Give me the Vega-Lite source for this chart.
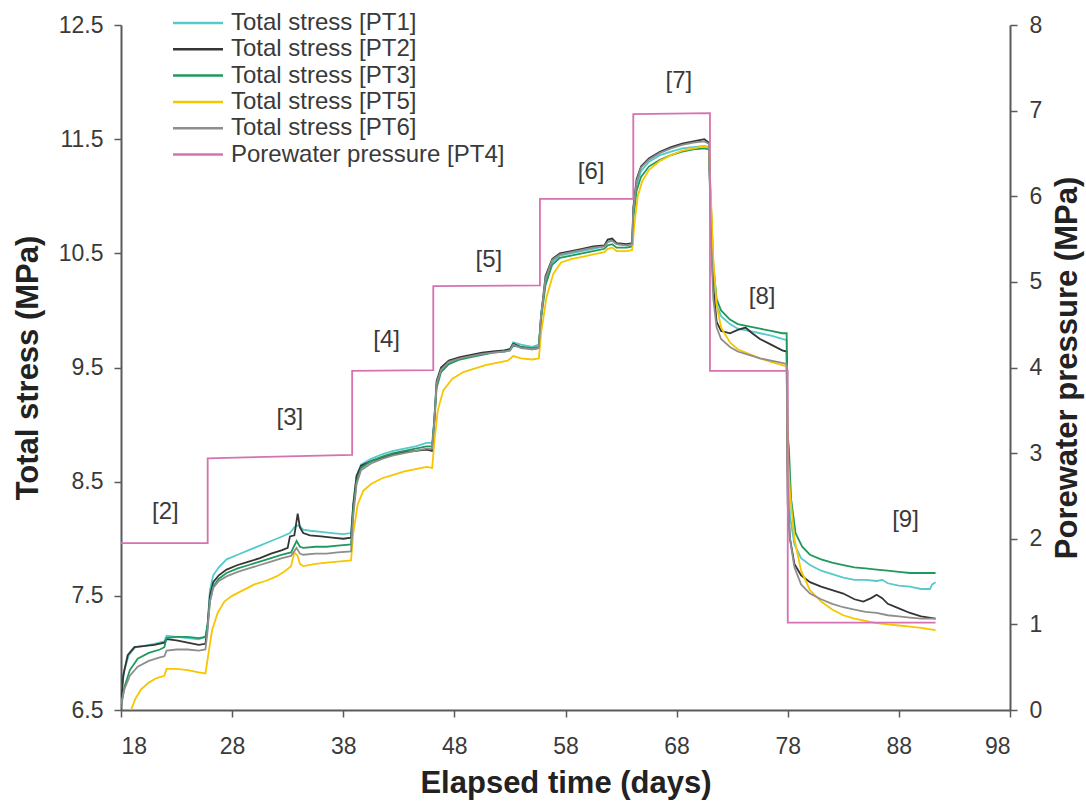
{
  "$schema": "https://vega.github.io/schema/vega-lite/v6.json",
  "width": 889,
  "height": 685,
  "autosize": {"type": "none"},
  "padding": {"left": 121, "top": 25, "right": 76, "bottom": 97},
  "background": "white",
  "config": {
    "view": {"stroke": null},
    "font": "Liberation Sans",
    "axis": {
      "grid": false,
      "domainColor": "#5a5a5a",
      "domainWidth": 2,
      "tickColor": "#5a5a5a",
      "tickWidth": 1.5,
      "tickSize": 7,
      "labelFont": "Liberation Sans",
      "labelFontSize": 23,
      "labelColor": "#3a3a3a",
      "titleFont": "Liberation Sans",
      "titleFontSize": 31,
      "titleFontWeight": "bold",
      "titleColor": "#222222"
    },
    "legend": {
      "orient": "none",
      "legendX": 65,
      "legendY": -14,
      "symbolType": "M-2.5,0H2.5",
      "symbolSize": 400,
      "symbolStrokeWidth": 2.5,
      "labelFont": "Liberation Sans",
      "labelFontSize": 24,
      "labelColor": "#3a3a3a",
      "labelOffset": 21,
      "labelLimit": 500,
      "rowPadding": 2.3,
      "title": null
    }
  },
  "datasets": {
    "stress": [
      {"s":"PT1","d":18.0,"v":6.62},{"s":"PT1","d":18.3,"v":6.85},{"s":"PT1","d":18.7,"v":6.98},{"s":"PT1","d":19.3,"v":7.05},{"s":"PT1","d":20.0,"v":7.06},{"s":"PT1","d":21.0,"v":7.08},{"s":"PT1","d":21.9,"v":7.10},{"s":"PT1","d":22.1,"v":7.15},{"s":"PT1","d":23.0,"v":7.14},{"s":"PT1","d":24.0,"v":7.13},{"s":"PT1","d":25.0,"v":7.12},{"s":"PT1","d":25.6,"v":7.14},{"s":"PT1","d":25.8,"v":7.25},{"s":"PT1","d":26.0,"v":7.55},{"s":"PT1","d":26.3,"v":7.68},{"s":"PT1","d":26.8,"v":7.75},{"s":"PT1","d":27.5,"v":7.82},{"s":"PT1","d":28.5,"v":7.86},{"s":"PT1","d":29.5,"v":7.90},{"s":"PT1","d":30.5,"v":7.94},{"s":"PT1","d":31.5,"v":7.98},{"s":"PT1","d":32.5,"v":8.02},{"s":"PT1","d":33.2,"v":8.05},{"s":"PT1","d":33.6,"v":8.10},{"s":"PT1","d":34.0,"v":8.12},{"s":"PT1","d":34.4,"v":8.08},{"s":"PT1","d":35.0,"v":8.07},{"s":"PT1","d":36.0,"v":8.06},{"s":"PT1","d":37.0,"v":8.05},{"s":"PT1","d":38.0,"v":8.04},{"s":"PT1","d":38.7,"v":8.05},{"s":"PT1","d":38.9,"v":8.30},{"s":"PT1","d":39.2,"v":8.55},{"s":"PT1","d":39.6,"v":8.65},{"s":"PT1","d":40.5,"v":8.70},{"s":"PT1","d":41.5,"v":8.74},{"s":"PT1","d":42.5,"v":8.77},{"s":"PT1","d":43.5,"v":8.79},{"s":"PT1","d":44.5,"v":8.81},{"s":"PT1","d":45.5,"v":8.84},{"s":"PT1","d":46.0,"v":8.84},{"s":"PT1","d":46.2,"v":9.05},{"s":"PT1","d":46.4,"v":9.35},{"s":"PT1","d":46.8,"v":9.48},{"s":"PT1","d":47.5,"v":9.55},{"s":"PT1","d":48.5,"v":9.58},{"s":"PT1","d":49.5,"v":9.60},{"s":"PT1","d":50.5,"v":9.62},{"s":"PT1","d":51.5,"v":9.64},{"s":"PT1","d":52.5,"v":9.65},{"s":"PT1","d":53.0,"v":9.66},{"s":"PT1","d":53.3,"v":9.72},{"s":"PT1","d":54.0,"v":9.70},{"s":"PT1","d":55.0,"v":9.68},{"s":"PT1","d":55.6,"v":9.70},{"s":"PT1","d":55.8,"v":9.95},{"s":"PT1","d":56.2,"v":10.25},{"s":"PT1","d":56.8,"v":10.42},{"s":"PT1","d":57.5,"v":10.48},{"s":"PT1","d":58.5,"v":10.50},{"s":"PT1","d":59.5,"v":10.52},{"s":"PT1","d":60.5,"v":10.54},{"s":"PT1","d":61.5,"v":10.56},{"s":"PT1","d":61.8,"v":10.60},{"s":"PT1","d":62.2,"v":10.62},{"s":"PT1","d":62.6,"v":10.58},{"s":"PT1","d":63.5,"v":10.57},{"s":"PT1","d":64.0,"v":10.58},{"s":"PT1","d":64.1,"v":10.85},{"s":"PT1","d":64.4,"v":11.10},{"s":"PT1","d":64.8,"v":11.22},{"s":"PT1","d":65.5,"v":11.30},{"s":"PT1","d":66.5,"v":11.36},{"s":"PT1","d":67.5,"v":11.39},{"s":"PT1","d":68.5,"v":11.42},{"s":"PT1","d":69.5,"v":11.43},{"s":"PT1","d":70.5,"v":11.44},{"s":"PT1","d":70.9,"v":11.43},{"s":"PT1","d":71.1,"v":10.80},{"s":"PT1","d":71.3,"v":10.30},{"s":"PT1","d":71.6,"v":10.05},{"s":"PT1","d":72.0,"v":9.95},{"s":"PT1","d":72.8,"v":9.88},{"s":"PT1","d":73.5,"v":9.84},{"s":"PT1","d":74.5,"v":9.82},{"s":"PT1","d":75.5,"v":9.80},{"s":"PT1","d":76.5,"v":9.78},{"s":"PT1","d":77.5,"v":9.75},{"s":"PT1","d":77.9,"v":9.74},{"s":"PT1","d":78.0,"v":8.60},{"s":"PT1","d":78.2,"v":8.20},{"s":"PT1","d":78.6,"v":7.95},{"s":"PT1","d":79.2,"v":7.83},{"s":"PT1","d":80.0,"v":7.77},{"s":"PT1","d":81.0,"v":7.72},{"s":"PT1","d":82.0,"v":7.69},{"s":"PT1","d":83.0,"v":7.66},{"s":"PT1","d":84.0,"v":7.64},{"s":"PT1","d":85.0,"v":7.64},{"s":"PT1","d":86.0,"v":7.63},{"s":"PT1","d":86.5,"v":7.64},{"s":"PT1","d":87.0,"v":7.61},{"s":"PT1","d":88.0,"v":7.59},{"s":"PT1","d":89.0,"v":7.58},{"s":"PT1","d":90.0,"v":7.56},{"s":"PT1","d":90.8,"v":7.56},{"s":"PT1","d":91.0,"v":7.60},{"s":"PT1","d":91.3,"v":7.62},

      {"s":"PT2","d":18.0,"v":6.55},{"s":"PT2","d":18.2,"v":6.80},{"s":"PT2","d":18.6,"v":6.98},{"s":"PT2","d":19.2,"v":7.05},{"s":"PT2","d":20.0,"v":7.06},{"s":"PT2","d":21.0,"v":7.07},{"s":"PT2","d":21.9,"v":7.09},{"s":"PT2","d":22.1,"v":7.12},{"s":"PT2","d":23.0,"v":7.11},{"s":"PT2","d":24.0,"v":7.09},{"s":"PT2","d":25.0,"v":7.07},{"s":"PT2","d":25.6,"v":7.08},{"s":"PT2","d":25.8,"v":7.25},{"s":"PT2","d":26.0,"v":7.50},{"s":"PT2","d":26.3,"v":7.62},{"s":"PT2","d":26.8,"v":7.68},{"s":"PT2","d":27.5,"v":7.73},{"s":"PT2","d":28.5,"v":7.77},{"s":"PT2","d":29.5,"v":7.80},{"s":"PT2","d":30.5,"v":7.83},{"s":"PT2","d":31.5,"v":7.87},{"s":"PT2","d":32.5,"v":7.90},{"s":"PT2","d":33.0,"v":7.92},{"s":"PT2","d":33.2,"v":8.02},{"s":"PT2","d":33.6,"v":8.03},{"s":"PT2","d":33.9,"v":8.22},{"s":"PT2","d":34.1,"v":8.10},{"s":"PT2","d":34.4,"v":8.05},{"s":"PT2","d":35.0,"v":8.03},{"s":"PT2","d":36.0,"v":8.02},{"s":"PT2","d":37.0,"v":8.01},{"s":"PT2","d":38.0,"v":8.00},{"s":"PT2","d":38.7,"v":8.01},{"s":"PT2","d":38.9,"v":8.30},{"s":"PT2","d":39.2,"v":8.55},{"s":"PT2","d":39.6,"v":8.64},{"s":"PT2","d":40.5,"v":8.68},{"s":"PT2","d":41.5,"v":8.71},{"s":"PT2","d":42.5,"v":8.74},{"s":"PT2","d":43.5,"v":8.76},{"s":"PT2","d":44.5,"v":8.77},{"s":"PT2","d":45.5,"v":8.78},{"s":"PT2","d":46.0,"v":8.77},{"s":"PT2","d":46.2,"v":9.05},{"s":"PT2","d":46.4,"v":9.38},{"s":"PT2","d":46.8,"v":9.50},{"s":"PT2","d":47.5,"v":9.56},{"s":"PT2","d":48.5,"v":9.59},{"s":"PT2","d":49.5,"v":9.61},{"s":"PT2","d":50.5,"v":9.63},{"s":"PT2","d":51.5,"v":9.64},{"s":"PT2","d":52.5,"v":9.65},{"s":"PT2","d":53.0,"v":9.66},{"s":"PT2","d":53.3,"v":9.71},{"s":"PT2","d":54.0,"v":9.68},{"s":"PT2","d":55.0,"v":9.66},{"s":"PT2","d":55.6,"v":9.67},{"s":"PT2","d":55.8,"v":9.95},{"s":"PT2","d":56.2,"v":10.30},{"s":"PT2","d":56.8,"v":10.45},{"s":"PT2","d":57.5,"v":10.50},{"s":"PT2","d":58.5,"v":10.52},{"s":"PT2","d":59.5,"v":10.54},{"s":"PT2","d":60.5,"v":10.56},{"s":"PT2","d":61.5,"v":10.57},{"s":"PT2","d":61.8,"v":10.62},{"s":"PT2","d":62.2,"v":10.63},{"s":"PT2","d":62.6,"v":10.59},{"s":"PT2","d":63.5,"v":10.58},{"s":"PT2","d":64.0,"v":10.59},{"s":"PT2","d":64.1,"v":10.90},{"s":"PT2","d":64.4,"v":11.15},{"s":"PT2","d":64.8,"v":11.26},{"s":"PT2","d":65.5,"v":11.33},{"s":"PT2","d":66.5,"v":11.39},{"s":"PT2","d":67.5,"v":11.43},{"s":"PT2","d":68.5,"v":11.46},{"s":"PT2","d":69.5,"v":11.48},{"s":"PT2","d":70.5,"v":11.50},{"s":"PT2","d":70.9,"v":11.47},{"s":"PT2","d":71.1,"v":10.70},{"s":"PT2","d":71.3,"v":10.20},{"s":"PT2","d":71.6,"v":9.90},{"s":"PT2","d":72.0,"v":9.82},{"s":"PT2","d":72.8,"v":9.80},{"s":"PT2","d":73.5,"v":9.83},{"s":"PT2","d":74.2,"v":9.85},{"s":"PT2","d":74.8,"v":9.80},{"s":"PT2","d":75.5,"v":9.75},{"s":"PT2","d":76.5,"v":9.70},{"s":"PT2","d":77.5,"v":9.65},{"s":"PT2","d":77.9,"v":9.64},{"s":"PT2","d":78.0,"v":8.30},{"s":"PT2","d":78.2,"v":8.00},{"s":"PT2","d":78.6,"v":7.78},{"s":"PT2","d":79.2,"v":7.68},{"s":"PT2","d":80.0,"v":7.62},{"s":"PT2","d":81.0,"v":7.58},{"s":"PT2","d":82.0,"v":7.55},{"s":"PT2","d":83.0,"v":7.52},{"s":"PT2","d":84.0,"v":7.47},{"s":"PT2","d":84.8,"v":7.45},{"s":"PT2","d":85.5,"v":7.48},{"s":"PT2","d":86.0,"v":7.51},{"s":"PT2","d":86.5,"v":7.48},{"s":"PT2","d":87.0,"v":7.43},{"s":"PT2","d":88.0,"v":7.39},{"s":"PT2","d":89.0,"v":7.35},{"s":"PT2","d":90.0,"v":7.32},{"s":"PT2","d":91.3,"v":7.30},

      {"s":"PT3","d":18.0,"v":6.52},{"s":"PT3","d":18.3,"v":6.70},{"s":"PT3","d":18.8,"v":6.85},{"s":"PT3","d":19.5,"v":6.95},{"s":"PT3","d":20.5,"v":7.00},{"s":"PT3","d":21.5,"v":7.03},{"s":"PT3","d":21.9,"v":7.05},{"s":"PT3","d":22.1,"v":7.13},{"s":"PT3","d":23.0,"v":7.14},{"s":"PT3","d":24.0,"v":7.14},{"s":"PT3","d":25.0,"v":7.13},{"s":"PT3","d":25.6,"v":7.14},{"s":"PT3","d":25.8,"v":7.25},{"s":"PT3","d":26.0,"v":7.45},{"s":"PT3","d":26.3,"v":7.58},{"s":"PT3","d":26.8,"v":7.65},{"s":"PT3","d":27.5,"v":7.70},{"s":"PT3","d":28.5,"v":7.74},{"s":"PT3","d":29.5,"v":7.77},{"s":"PT3","d":30.5,"v":7.80},{"s":"PT3","d":31.5,"v":7.83},{"s":"PT3","d":32.5,"v":7.86},{"s":"PT3","d":33.3,"v":7.88},{"s":"PT3","d":33.8,"v":7.98},{"s":"PT3","d":34.1,"v":7.93},{"s":"PT3","d":34.4,"v":7.92},{"s":"PT3","d":35.5,"v":7.93},{"s":"PT3","d":36.5,"v":7.93},{"s":"PT3","d":37.5,"v":7.94},{"s":"PT3","d":38.7,"v":7.95},{"s":"PT3","d":38.9,"v":8.25},{"s":"PT3","d":39.2,"v":8.50},{"s":"PT3","d":39.6,"v":8.62},{"s":"PT3","d":40.5,"v":8.68},{"s":"PT3","d":41.5,"v":8.72},{"s":"PT3","d":42.5,"v":8.75},{"s":"PT3","d":43.5,"v":8.77},{"s":"PT3","d":44.5,"v":8.79},{"s":"PT3","d":45.5,"v":8.81},{"s":"PT3","d":46.0,"v":8.81},{"s":"PT3","d":46.2,"v":9.02},{"s":"PT3","d":46.4,"v":9.32},{"s":"PT3","d":46.8,"v":9.46},{"s":"PT3","d":47.5,"v":9.53},{"s":"PT3","d":48.5,"v":9.57},{"s":"PT3","d":49.5,"v":9.59},{"s":"PT3","d":50.5,"v":9.61},{"s":"PT3","d":51.5,"v":9.63},{"s":"PT3","d":52.5,"v":9.64},{"s":"PT3","d":53.0,"v":9.65},{"s":"PT3","d":53.3,"v":9.69},{"s":"PT3","d":54.0,"v":9.68},{"s":"PT3","d":55.0,"v":9.67},{"s":"PT3","d":55.6,"v":9.68},{"s":"PT3","d":55.8,"v":9.92},{"s":"PT3","d":56.2,"v":10.22},{"s":"PT3","d":56.8,"v":10.40},{"s":"PT3","d":57.5,"v":10.46},{"s":"PT3","d":58.5,"v":10.48},{"s":"PT3","d":59.5,"v":10.50},{"s":"PT3","d":60.5,"v":10.52},{"s":"PT3","d":61.5,"v":10.54},{"s":"PT3","d":61.8,"v":10.57},{"s":"PT3","d":62.2,"v":10.58},{"s":"PT3","d":62.6,"v":10.55},{"s":"PT3","d":63.5,"v":10.55},{"s":"PT3","d":64.0,"v":10.56},{"s":"PT3","d":64.1,"v":10.80},{"s":"PT3","d":64.4,"v":11.05},{"s":"PT3","d":64.8,"v":11.17},{"s":"PT3","d":65.5,"v":11.26},{"s":"PT3","d":66.5,"v":11.32},{"s":"PT3","d":67.5,"v":11.36},{"s":"PT3","d":68.5,"v":11.39},{"s":"PT3","d":69.5,"v":11.41},{"s":"PT3","d":70.5,"v":11.42},{"s":"PT3","d":70.9,"v":11.41},{"s":"PT3","d":71.1,"v":10.90},{"s":"PT3","d":71.3,"v":10.40},{"s":"PT3","d":71.6,"v":10.10},{"s":"PT3","d":72.0,"v":10.00},{"s":"PT3","d":72.8,"v":9.92},{"s":"PT3","d":73.5,"v":9.88},{"s":"PT3","d":74.5,"v":9.86},{"s":"PT3","d":75.5,"v":9.84},{"s":"PT3","d":76.5,"v":9.82},{"s":"PT3","d":77.5,"v":9.80},{"s":"PT3","d":77.9,"v":9.80},{"s":"PT3","d":78.0,"v":8.90},{"s":"PT3","d":78.1,"v":8.80},{"s":"PT3","d":78.3,"v":8.35},{"s":"PT3","d":78.7,"v":8.05},{"s":"PT3","d":79.3,"v":7.93},{"s":"PT3","d":80.0,"v":7.86},{"s":"PT3","d":81.0,"v":7.82},{"s":"PT3","d":82.0,"v":7.79},{"s":"PT3","d":83.0,"v":7.77},{"s":"PT3","d":84.0,"v":7.75},{"s":"PT3","d":85.0,"v":7.74},{"s":"PT3","d":86.0,"v":7.73},{"s":"PT3","d":87.0,"v":7.72},{"s":"PT3","d":88.0,"v":7.71},{"s":"PT3","d":89.0,"v":7.70},{"s":"PT3","d":90.0,"v":7.70},{"s":"PT3","d":91.3,"v":7.70},

      {"s":"PT5","d":18.9,"v":6.50},{"s":"PT5","d":19.3,"v":6.60},{"s":"PT5","d":19.8,"v":6.68},{"s":"PT5","d":20.5,"v":6.74},{"s":"PT5","d":21.2,"v":6.78},{"s":"PT5","d":21.9,"v":6.80},{"s":"PT5","d":22.1,"v":6.86},{"s":"PT5","d":23.0,"v":6.86},{"s":"PT5","d":24.0,"v":6.85},{"s":"PT5","d":25.0,"v":6.83},{"s":"PT5","d":25.6,"v":6.82},{"s":"PT5","d":25.8,"v":6.95},{"s":"PT5","d":26.2,"v":7.20},{"s":"PT5","d":26.7,"v":7.35},{"s":"PT5","d":27.3,"v":7.45},{"s":"PT5","d":28.0,"v":7.50},{"s":"PT5","d":29.0,"v":7.55},{"s":"PT5","d":30.0,"v":7.60},{"s":"PT5","d":31.0,"v":7.63},{"s":"PT5","d":32.0,"v":7.67},{"s":"PT5","d":32.8,"v":7.72},{"s":"PT5","d":33.3,"v":7.76},{"s":"PT5","d":33.6,"v":7.88},{"s":"PT5","d":33.9,"v":7.85},{"s":"PT5","d":34.1,"v":7.78},{"s":"PT5","d":34.4,"v":7.76},{"s":"PT5","d":35.5,"v":7.78},{"s":"PT5","d":36.5,"v":7.79},{"s":"PT5","d":37.5,"v":7.80},{"s":"PT5","d":38.7,"v":7.81},{"s":"PT5","d":38.9,"v":8.05},{"s":"PT5","d":39.3,"v":8.30},{"s":"PT5","d":39.8,"v":8.42},{"s":"PT5","d":40.5,"v":8.48},{"s":"PT5","d":41.5,"v":8.53},{"s":"PT5","d":42.5,"v":8.56},{"s":"PT5","d":43.5,"v":8.59},{"s":"PT5","d":44.5,"v":8.61},{"s":"PT5","d":45.5,"v":8.63},{"s":"PT5","d":46.0,"v":8.62},{"s":"PT5","d":46.2,"v":8.85},{"s":"PT5","d":46.5,"v":9.12},{"s":"PT5","d":47.0,"v":9.30},{"s":"PT5","d":47.8,"v":9.40},{"s":"PT5","d":48.8,"v":9.46},{"s":"PT5","d":49.8,"v":9.49},{"s":"PT5","d":50.8,"v":9.52},{"s":"PT5","d":51.8,"v":9.54},{"s":"PT5","d":52.8,"v":9.56},{"s":"PT5","d":53.3,"v":9.60},{"s":"PT5","d":54.0,"v":9.58},{"s":"PT5","d":55.0,"v":9.57},{"s":"PT5","d":55.6,"v":9.58},{"s":"PT5","d":55.8,"v":9.80},{"s":"PT5","d":56.3,"v":10.12},{"s":"PT5","d":56.9,"v":10.32},{"s":"PT5","d":57.6,"v":10.42},{"s":"PT5","d":58.5,"v":10.45},{"s":"PT5","d":59.5,"v":10.47},{"s":"PT5","d":60.5,"v":10.49},{"s":"PT5","d":61.5,"v":10.51},{"s":"PT5","d":61.8,"v":10.54},{"s":"PT5","d":62.2,"v":10.55},{"s":"PT5","d":62.6,"v":10.52},{"s":"PT5","d":63.5,"v":10.52},{"s":"PT5","d":64.0,"v":10.53},{"s":"PT5","d":64.2,"v":10.75},{"s":"PT5","d":64.5,"v":11.00},{"s":"PT5","d":64.9,"v":11.13},{"s":"PT5","d":65.5,"v":11.23},{"s":"PT5","d":66.5,"v":11.31},{"s":"PT5","d":67.5,"v":11.36},{"s":"PT5","d":68.5,"v":11.40},{"s":"PT5","d":69.5,"v":11.42},{"s":"PT5","d":70.5,"v":11.44},{"s":"PT5","d":70.9,"v":11.43},{"s":"PT5","d":71.1,"v":10.95},{"s":"PT5","d":71.15,"v":10.85},{"s":"PT5","d":71.3,"v":10.45},{"s":"PT5","d":71.6,"v":10.05},{"s":"PT5","d":72.0,"v":9.85},{"s":"PT5","d":72.8,"v":9.72},{"s":"PT5","d":73.5,"v":9.66},{"s":"PT5","d":74.5,"v":9.62},{"s":"PT5","d":75.5,"v":9.58},{"s":"PT5","d":76.5,"v":9.55},{"s":"PT5","d":77.5,"v":9.52},{"s":"PT5","d":77.9,"v":9.51},{"s":"PT5","d":78.0,"v":8.75},{"s":"PT5","d":78.2,"v":8.40},{"s":"PT5","d":78.6,"v":8.00},{"s":"PT5","d":79.2,"v":7.72},{"s":"PT5","d":80.0,"v":7.55},{"s":"PT5","d":81.0,"v":7.45},{"s":"PT5","d":82.0,"v":7.38},{"s":"PT5","d":83.0,"v":7.33},{"s":"PT5","d":84.0,"v":7.30},{"s":"PT5","d":85.0,"v":7.28},{"s":"PT5","d":86.0,"v":7.26},{"s":"PT5","d":87.0,"v":7.25},{"s":"PT5","d":88.0,"v":7.24},{"s":"PT5","d":89.0,"v":7.23},{"s":"PT5","d":90.0,"v":7.22},{"s":"PT5","d":91.3,"v":7.20},

      {"s":"PT6","d":18.0,"v":6.55},{"s":"PT6","d":18.3,"v":6.68},{"s":"PT6","d":18.8,"v":6.80},{"s":"PT6","d":19.5,"v":6.88},{"s":"PT6","d":20.5,"v":6.93},{"s":"PT6","d":21.5,"v":6.96},{"s":"PT6","d":21.9,"v":6.97},{"s":"PT6","d":22.1,"v":7.02},{"s":"PT6","d":23.0,"v":7.03},{"s":"PT6","d":24.0,"v":7.03},{"s":"PT6","d":25.0,"v":7.02},{"s":"PT6","d":25.6,"v":7.03},{"s":"PT6","d":25.8,"v":7.20},{"s":"PT6","d":26.0,"v":7.45},{"s":"PT6","d":26.3,"v":7.57},{"s":"PT6","d":26.8,"v":7.63},{"s":"PT6","d":27.5,"v":7.67},{"s":"PT6","d":28.5,"v":7.71},{"s":"PT6","d":29.5,"v":7.74},{"s":"PT6","d":30.5,"v":7.77},{"s":"PT6","d":31.5,"v":7.80},{"s":"PT6","d":32.5,"v":7.83},{"s":"PT6","d":33.3,"v":7.85},{"s":"PT6","d":33.8,"v":7.92},{"s":"PT6","d":34.1,"v":7.87},{"s":"PT6","d":34.4,"v":7.86},{"s":"PT6","d":35.5,"v":7.87},{"s":"PT6","d":36.5,"v":7.87},{"s":"PT6","d":37.5,"v":7.88},{"s":"PT6","d":38.7,"v":7.89},{"s":"PT6","d":38.9,"v":8.20},{"s":"PT6","d":39.2,"v":8.48},{"s":"PT6","d":39.6,"v":8.60},{"s":"PT6","d":40.5,"v":8.66},{"s":"PT6","d":41.5,"v":8.70},{"s":"PT6","d":42.5,"v":8.73},{"s":"PT6","d":43.5,"v":8.75},{"s":"PT6","d":44.5,"v":8.77},{"s":"PT6","d":45.5,"v":8.79},{"s":"PT6","d":46.0,"v":8.79},{"s":"PT6","d":46.2,"v":9.03},{"s":"PT6","d":46.4,"v":9.36},{"s":"PT6","d":46.8,"v":9.48},{"s":"PT6","d":47.5,"v":9.55},{"s":"PT6","d":48.5,"v":9.58},{"s":"PT6","d":49.5,"v":9.60},{"s":"PT6","d":50.5,"v":9.62},{"s":"PT6","d":51.5,"v":9.63},{"s":"PT6","d":52.5,"v":9.64},{"s":"PT6","d":53.0,"v":9.65},{"s":"PT6","d":53.3,"v":9.70},{"s":"PT6","d":54.0,"v":9.67},{"s":"PT6","d":55.0,"v":9.66},{"s":"PT6","d":55.6,"v":9.67},{"s":"PT6","d":55.8,"v":9.95},{"s":"PT6","d":56.2,"v":10.28},{"s":"PT6","d":56.8,"v":10.44},{"s":"PT6","d":57.5,"v":10.49},{"s":"PT6","d":58.5,"v":10.51},{"s":"PT6","d":59.5,"v":10.53},{"s":"PT6","d":60.5,"v":10.55},{"s":"PT6","d":61.5,"v":10.56},{"s":"PT6","d":61.8,"v":10.60},{"s":"PT6","d":62.2,"v":10.61},{"s":"PT6","d":62.6,"v":10.58},{"s":"PT6","d":63.5,"v":10.57},{"s":"PT6","d":64.0,"v":10.58},{"s":"PT6","d":64.1,"v":10.88},{"s":"PT6","d":64.4,"v":11.13},{"s":"PT6","d":64.8,"v":11.25},{"s":"PT6","d":65.5,"v":11.32},{"s":"PT6","d":66.5,"v":11.38},{"s":"PT6","d":67.5,"v":11.42},{"s":"PT6","d":68.5,"v":11.45},{"s":"PT6","d":69.5,"v":11.47},{"s":"PT6","d":70.5,"v":11.48},{"s":"PT6","d":70.9,"v":11.46},{"s":"PT6","d":71.1,"v":10.60},{"s":"PT6","d":71.3,"v":10.10},{"s":"PT6","d":71.6,"v":9.85},{"s":"PT6","d":72.0,"v":9.75},{"s":"PT6","d":72.8,"v":9.68},{"s":"PT6","d":73.5,"v":9.64},{"s":"PT6","d":74.5,"v":9.61},{"s":"PT6","d":75.5,"v":9.58},{"s":"PT6","d":76.5,"v":9.56},{"s":"PT6","d":77.5,"v":9.54},{"s":"PT6","d":77.9,"v":9.53},{"s":"PT6","d":78.0,"v":8.40},{"s":"PT6","d":78.2,"v":8.00},{"s":"PT6","d":78.6,"v":7.75},{"s":"PT6","d":79.2,"v":7.60},{"s":"PT6","d":80.0,"v":7.52},{"s":"PT6","d":81.0,"v":7.47},{"s":"PT6","d":82.0,"v":7.43},{"s":"PT6","d":83.0,"v":7.40},{"s":"PT6","d":84.0,"v":7.38},{"s":"PT6","d":85.0,"v":7.36},{"s":"PT6","d":86.0,"v":7.35},{"s":"PT6","d":87.0,"v":7.33},{"s":"PT6","d":88.0,"v":7.32},{"s":"PT6","d":89.0,"v":7.31},{"s":"PT6","d":90.0,"v":7.30},{"s":"PT6","d":91.3,"v":7.30}
    ],
    "pore": [
      {"s":"PT4","i":1,"d":18.0,"p":1.95},{"s":"PT4","i":2,"d":25.8,"p":1.95},{"s":"PT4","i":3,"d":25.8,"p":2.94},{"s":"PT4","i":4,"d":32.0,"p":2.96},{"s":"PT4","i":5,"d":38.8,"p":2.98},{"s":"PT4","i":6,"d":38.8,"p":3.96},{"s":"PT4","i":7,"d":46.1,"p":3.97},{"s":"PT4","i":8,"d":46.1,"p":4.95},{"s":"PT4","i":9,"d":55.7,"p":4.96},{"s":"PT4","i":10,"d":55.7,"p":5.97},{"s":"PT4","i":11,"d":64.1,"p":5.97},{"s":"PT4","i":12,"d":64.1,"p":6.96},{"s":"PT4","i":13,"d":71.0,"p":6.97},{"s":"PT4","i":14,"d":71.0,"p":3.96},{"s":"PT4","i":15,"d":78.0,"p":3.96},{"s":"PT4","i":16,"d":78.0,"p":1.02},{"s":"PT4","i":17,"d":91.3,"p":1.02}
    ],
    "labels": [
      {"t":"[2]","d":22.0,"v":8.23},{"t":"[3]","d":33.2,"v":9.06},{"t":"[4]","d":41.9,"v":9.74},{"t":"[5]","d":51.1,"v":10.44},{"t":"[6]","d":60.3,"v":11.21},{"t":"[7]","d":68.2,"v":12.01},{"t":"[8]","d":75.7,"v":10.12},{"t":"[9]","d":88.6,"v":8.16}
    ]
  },
  "encoding": {
    "x": {
      "field": "d",
      "type": "quantitative",
      "scale": {"domain": [18, 98], "nice": false, "zero": false},
      "axis": {"values": [18, 28, 38, 48, 58, 68, 78, 88, 98], "title": "Elapsed time (days)", "labelPadding": 18, "titlePadding": 10}
    }
  },
  "layer": [
    {
      "layer": [
        {
          "data": {"name": "stress"},
          "mark": {"type": "line", "strokeWidth": 1.8, "clip": true},
          "encoding": {
            "y": {
              "field": "v",
              "type": "quantitative",
              "scale": {"domain": [6.5, 12.5], "nice": false, "zero": false},
              "axis": {"orient": "left", "values": [6.5, 7.5, 8.5, 9.5, 10.5, 11.5, 12.5], "format": ".1f", "title": "Total stress (MPa)", "labelPadding": 11, "titlePadding": 14}
            },
            "color": {
              "field": "s",
              "type": "nominal",
              "scale": {"domain": ["PT1", "PT2", "PT3", "PT5", "PT6", "PT4"], "range": ["#55c9cc", "#353535", "#1f9a5c", "#f7c600", "#8e8e8e", "#d672b0"]},
              "legend": {"labelExpr": "datum.label == 'PT4' ? 'Porewater pressure [PT4]' : 'Total stress [' + datum.label + ']'"}
            }
          }
        },
        {
          "data": {"name": "labels"},
          "mark": {"type": "text", "fontSize": 24, "color": "#3a3a3a", "font": "Liberation Sans"},
          "encoding": {
            "y": {"field": "v", "type": "quantitative"},
            "text": {"field": "t"}
          }
        }
      ]
    },
    {
      "data": {"name": "pore"},
      "mark": {"type": "line", "strokeWidth": 1.8},
      "encoding": {
        "y": {
          "field": "p",
          "type": "quantitative",
          "scale": {"domain": [0, 8], "nice": false},
          "axis": {"orient": "right", "values": [0, 1, 2, 3, 4, 5, 6, 7, 8], "title": "Porewater pressure (MPa)", "titleAngle": -90, "titleBaseline": "top", "labelPadding": 12, "titlePadding": 11}
        },
        "order": {"field": "i", "type": "quantitative"},
        "color": {"field": "s", "type": "nominal"}
      }
    }
  ],
  "resolve": {"scale": {"y": "independent"}}
}
